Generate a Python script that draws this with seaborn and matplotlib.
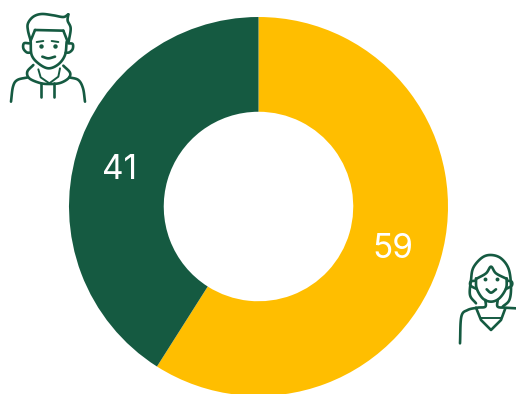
import numpy as np
import matplotlib
matplotlib.use("Agg")
import matplotlib.pyplot as plt
import seaborn as sns

groups = ["Men", "Women"]
shares = [41, 59]
share_labels = ["41", "59"]
colours = sns.color_palette(["#155A41", "#FFBE00"])
INK = "#155A41"

W, H = 516, 394
sns.set_theme(style="white")
plt.rcParams["font.family"] = ["Inter", "DejaVu Sans"]

fig = plt.figure(figsize=(W / 100, H / 100), dpi=100, facecolor="white")

# Ring: centre and radius given in pixels
cx, cy, r = 258.5, 206.5, 189.5
ax = fig.add_axes([(cx - r) / W, 1 - (cy + r) / H, 2 * r / W, 2 * r / H])
ax.pie(
    shares[::-1],
    colors=colours[::-1],
    startangle=90,
    counterclock=False,
    radius=1,
    wedgeprops=dict(width=0.5, linewidth=0),
)
ax.set_xlim(-1, 1)
ax.set_ylim(-1, 1)
ax.axis("off")

# Overlay in pixel coordinates for labels and the two portraits
ov = fig.add_axes([0, 0, 1, 1], facecolor="none")
ov.set_xlim(0, W)
ov.set_ylim(H, 0)
ov.axis("off")

label_style = dict(color="white", fontsize=24, fontweight="normal", ha="center", va="center")
ov.text(120, 170, share_labels[0], **label_style)
ov.text(392.5, 249, share_labels[1], **label_style)


def smooth(points, n=12):
    # Catmull-Rom curve through the given points
    p = np.array(points, dtype=float)
    if len(p) < 3:
        return p
    q = np.vstack([2 * p[0] - p[1], p, 2 * p[-1] - p[-2]])
    out = []
    for i in range(1, len(q) - 2):
        for t in np.linspace(0, 1, n, endpoint=False):
            out.append(0.5 * (2 * q[i] + (q[i + 1] - q[i - 1]) * t
                              + (2 * q[i - 1] - 5 * q[i] + 4 * q[i + 1] - q[i + 2]) * t ** 2
                              + (3 * q[i] - q[i - 1] - 3 * q[i + 1] + q[i + 2]) * t ** 3))
    out.append(p[-1])
    return np.array(out)


def stroke(origin, points, lw=1.9, curve=True):
    # Points are given on a 3x grid relative to the portrait origin
    pts = np.array(points, dtype=float) / 3 + origin
    pts = smooth(pts) if curve else pts
    ov.plot(pts[:, 0], pts[:, 1], color=INK, lw=lw, solid_capstyle="round", solid_joinstyle="round")


def dots(origin, points, size=3.2):
    pts = np.array(points, dtype=float) / 3 + origin
    ov.plot(pts[:, 0], pts[:, 1], "o", color=INK, ms=size, mew=0)


# Man with hoodie
man = (0, 0)
stroke(man, [(92, 122), (84, 92), (84, 70), (100, 50), (125, 42), (160, 46), (190, 51), (205, 43)])
stroke(man, [(205, 43), (203, 62), (212, 85), (206, 125)])
stroke(man, [(92, 122), (105, 90)], curve=False)
stroke(man, [(105, 90), (190, 92)], curve=False)
stroke(man, [(190, 92), (203, 125)], curve=False)
stroke(man, [(92, 125), (95, 165), (115, 190), (145, 205), (175, 193), (195, 165), (200, 125)])
stroke(man, [(88, 130), (72, 130), (70, 145), (80, 157), (92, 158)])
stroke(man, [(205, 130), (218, 132), (218, 147), (208, 157), (197, 158)])
dots(man, [(122, 138), (165, 138)])
stroke(man, [(110, 126), (130, 123)], 1.4, False)
stroke(man, [(155, 123), (175, 126)], 1.4, False)
stroke(man, [(127, 170), (145, 175), (165, 170)])
stroke(man, [(100, 195), (82, 215), (88, 235), (120, 249), (148, 252), (180, 249), (205, 235), (210, 218), (190, 197)])
stroke(man, [(115, 208), (122, 232), (148, 250), (175, 230), (180, 205)], 1.4, False)
stroke(man, [(122, 250), (122, 292)], curve=False)
stroke(man, [(163, 250), (163, 292)], curve=False)
stroke(man, [(84, 232), (52, 240), (39, 260), (33, 305)])
stroke(man, [(208, 232), (235, 240), (249, 265), (255, 305)])

# Woman with long hair
woman = (446, 245)
stroke(woman, [(90, 175), (72, 150), (75, 105), (82, 68), (108, 38), (135, 30), (165, 40), (188, 72), (195, 125), (190, 165), (170, 185)])
stroke(woman, [(90, 102), (120, 85), (135, 65), (150, 85), (183, 102)])
stroke(woman, [(90, 100), (92, 130), (110, 160), (135, 170), (160, 160), (180, 130), (182, 100)])
stroke(woman, [(88, 107), (74, 110), (74, 122), (92, 132)])
stroke(woman, [(184, 107), (197, 110), (197, 122), (180, 132)])
dots(woman, [(118, 102), (152, 102)], 2.8)
stroke(woman, [(122, 133), (135, 143), (150, 133)])
stroke(woman, [(118, 165), (118, 185), (95, 188), (65, 195), (46, 215), (42, 295)])
stroke(woman, [(155, 165), (155, 185), (178, 188), (210, 190)])
stroke(woman, [(90, 188), (105, 225), (135, 255), (165, 225), (178, 190)], curve=False)
stroke(woman, [(105, 218), (165, 218)], 1.4, False)

fig.savefig("out.png", dpi=100, facecolor="white")
